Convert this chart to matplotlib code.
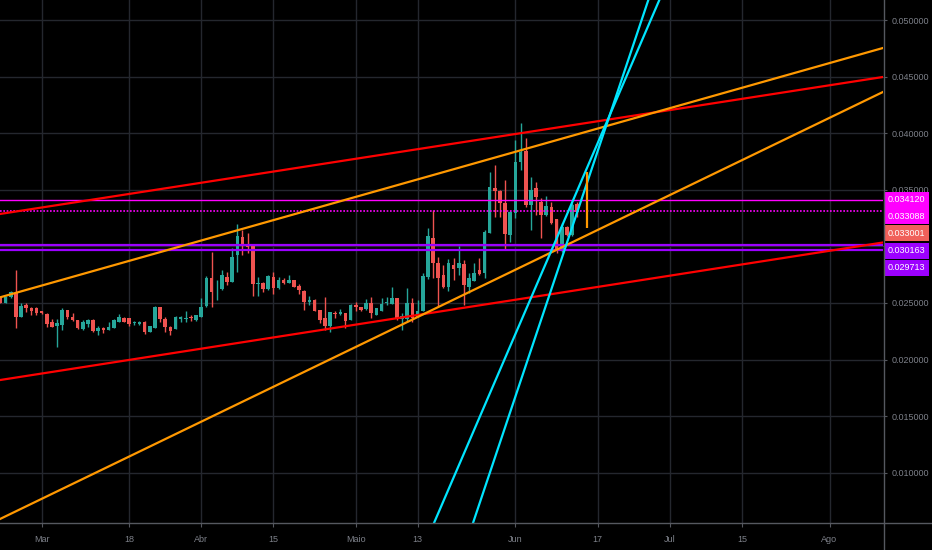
import numpy as np
import pandas as pd
import matplotlib
matplotlib.use("Agg")
import matplotlib.pyplot as plt
import matplotlib.dates as mdates
from matplotlib.lines import Line2D

# daily candles, 2019-02-21 .. 2019-06-13
opens = [0.02541, 0.02503, 0.02550, 0.02591, 0.02379, 0.02479, 0.02459, 0.02459,
         0.02429, 0.02403, 0.02332, 0.02297, 0.02309, 0.02438, 0.02379, 0.02347,
         0.02267, 0.02314, 0.02350, 0.02252, 0.02279, 0.02261, 0.02282, 0.02332,
         0.02367, 0.02364, 0.02320, 0.02314, 0.02335, 0.02247, 0.02282, 0.02462,
         0.02356, 0.02291, 0.02270, 0.02356, 0.02356, 0.02379, 0.02347, 0.02379,
         0.02473, 0.02718, 0.02603, 0.02621, 0.02733, 0.02688, 0.02921, 0.03080,
         0.03012, 0.03012, 0.02668, 0.02679, 0.02624, 0.02727, 0.02629, 0.02703,
         0.02680, 0.02703, 0.02653, 0.02609, 0.02512, 0.02526, 0.02438, 0.02364,
         0.02297, 0.02414, 0.02400, 0.02409, 0.02350, 0.02482, 0.02462, 0.02444,
         0.02497, 0.02394, 0.02432, 0.02497, 0.02491, 0.02541, 0.02356, 0.02356,
         0.02497, 0.02379, 0.02432, 0.02733, 0.03071, 0.02850, 0.02747, 0.02638,
         0.02836, 0.02807, 0.02844, 0.02644, 0.02697, 0.02791, 0.02768, 0.03115,
         0.03513, 0.03489, 0.03380, 0.03101, 0.03298, 0.03748, 0.03846, 0.03366,
         0.03513, 0.03395, 0.03277, 0.03345, 0.03239, 0.02962, 0.03168, 0.03101,
         0.03372]
highs = [0.02550, 0.02562, 0.02610, 0.02791, 0.02503, 0.02497, 0.02468, 0.02468,
         0.02432, 0.02409, 0.02356, 0.02356, 0.02453, 0.02441, 0.02409, 0.02350,
         0.02350, 0.02361, 0.02356, 0.02297, 0.02291, 0.02335, 0.02356, 0.02403,
         0.02373, 0.02370, 0.02341, 0.02341, 0.02338, 0.02300, 0.02473, 0.02468,
         0.02373, 0.02297, 0.02385, 0.02382, 0.02432, 0.02397, 0.02397, 0.02544,
         0.02741, 0.02951, 0.02703, 0.02791, 0.02777, 0.02983, 0.03198, 0.03145,
         0.03121, 0.03015, 0.02733, 0.02683, 0.02744, 0.02777, 0.02733, 0.02718,
         0.02747, 0.02706, 0.02668, 0.02612, 0.02561, 0.02535, 0.02441, 0.02556,
         0.02423, 0.02432, 0.02447, 0.02414, 0.02488, 0.02512, 0.02468, 0.02535,
         0.02556, 0.02459, 0.02541, 0.02556, 0.02644, 0.02544, 0.02409, 0.02629,
         0.02541, 0.02526, 0.02762, 0.03160, 0.03322, 0.02909, 0.02836, 0.02886,
         0.02895, 0.03007, 0.02880, 0.02768, 0.02851, 0.02895, 0.03145, 0.03660,
         0.03719, 0.03495, 0.03587, 0.03320, 0.03940, 0.04087, 0.03955, 0.03616,
         0.03572, 0.03425, 0.03445, 0.03395, 0.03245, 0.03204, 0.03180, 0.03380,
         0.03395]
lows = [0.02497, 0.02497, 0.02544, 0.02282, 0.02376, 0.02423, 0.02394, 0.02397,
        0.02403, 0.02285, 0.02285, 0.02114, 0.02261, 0.02356, 0.02341, 0.02270,
        0.02261, 0.02291, 0.02247, 0.02217, 0.02238, 0.02258, 0.02279, 0.02329,
        0.02329, 0.02297, 0.02303, 0.02309, 0.02223, 0.02244, 0.02279, 0.02332,
        0.02247, 0.02217, 0.02267, 0.02335, 0.02335, 0.02341, 0.02344, 0.02376,
        0.02468, 0.02468, 0.02526, 0.02615, 0.02659, 0.02685, 0.02777, 0.02924,
        0.02945, 0.02561, 0.02561, 0.02600, 0.02618, 0.02579, 0.02621, 0.02668,
        0.02677, 0.02638, 0.02579, 0.02438, 0.02482, 0.02426, 0.02320, 0.02261,
        0.02247, 0.02370, 0.02397, 0.02276, 0.02347, 0.02432, 0.02432, 0.02441,
        0.02364, 0.02391, 0.02429, 0.02482, 0.02488, 0.02353, 0.02261, 0.02335,
        0.02335, 0.02376, 0.02429, 0.02709, 0.02718, 0.02467, 0.02630, 0.02606,
        0.02703, 0.02747, 0.02482, 0.02585, 0.02690, 0.02745, 0.02718, 0.03115,
        0.03263, 0.03263, 0.02974, 0.03042, 0.03248, 0.03675, 0.03350, 0.03145,
        0.03277, 0.03071, 0.03265, 0.03200, 0.02939, 0.02953, 0.03090, 0.03095,
        0.03263]
closes = [0.02503, 0.02556, 0.02600, 0.02379, 0.02473, 0.02459, 0.02429, 0.02414,
          0.02409, 0.02314, 0.02291, 0.02320, 0.02438, 0.02373, 0.02350, 0.02276,
          0.02332, 0.02350, 0.02252, 0.02282, 0.02261, 0.02291, 0.02350, 0.02373,
          0.02332, 0.02314, 0.02332, 0.02335, 0.02247, 0.02297, 0.02462, 0.02359,
          0.02291, 0.02255, 0.02379, 0.02376, 0.02370, 0.02364, 0.02394, 0.02462,
          0.02718, 0.02600, 0.02609, 0.02747, 0.02685, 0.02909, 0.03092, 0.03012,
          0.02998, 0.02668, 0.02679, 0.02624, 0.02738, 0.02629, 0.02703, 0.02680,
          0.02703, 0.02644, 0.02615, 0.02512, 0.02526, 0.02432, 0.02350, 0.02297,
          0.02417, 0.02400, 0.02423, 0.02344, 0.02482, 0.02462, 0.02438, 0.02497,
          0.02409, 0.02453, 0.02491, 0.02512, 0.02541, 0.02356, 0.02385, 0.02497,
          0.02370, 0.02432, 0.02738, 0.03092, 0.02850, 0.02718, 0.02641, 0.02850,
          0.02798, 0.02851, 0.02659, 0.02720, 0.02765, 0.02753, 0.03130, 0.03528,
          0.03489, 0.03380, 0.03109, 0.03307, 0.03748, 0.03837, 0.03366, 0.03498,
          0.03433, 0.03277, 0.03357, 0.03210, 0.02962, 0.03168, 0.03101, 0.03366,
          0.03300]
dates = pd.date_range("2019-02-21", periods=len(opens), freq="D")

# trend lines drawn on the chart: (date, price) pairs
red_lines = [(("2019-02-21", 0.03287), ("2019-08-11", 0.04494)),
             (("2019-02-21", 0.01820), ("2019-08-11", 0.03032))]
orange_lines = [(("2019-02-21", 0.02551), ("2019-08-11", 0.04748)),
                (("2019-02-21", 0.005936), ("2019-08-11", 0.04356))]
cyan_lines = [(("2019-05-16", 0.00536), ("2019-06-29", 0.05182)),
              (("2019-05-24", 0.005883), ("2019-06-27", 0.05202))]
orange_mark = ("2019-06-14 22:00", 0.03163, 0.03660)

# horizontal levels
magenta_solid = 0.034120
magenta_dotted = 0.033088
purple_levels = [0.030163, 0.029713]
last_price = 0.033001

tick_dates = ["2019-03-01", "2019-03-18", "2019-04-01", "2019-04-15", "2019-05-01",
              "2019-05-13", "2019-06-01", "2019-06-17", "2019-07-01", "2019-07-15",
              "2019-08-01"]
tick_labels = ["Mar", "18", "Abr", "15", "Maio", "13", "Jun", "17", "Jul", "15", "Ago"]
price_ticks = [0.010, 0.015, 0.020, 0.025, 0.030, 0.035, 0.040, 0.045, 0.050]

UP = "#26a69a"
DOWN = "#ef5350"
GRID = "#24272e"
AXIS = "#55585f"
TXT = "#7d8089"

fig = plt.figure(figsize=(9.32, 5.5), dpi=100, facecolor="black")
ax = fig.add_axes([0, 27 / 550, 883 / 932, 523 / 550])
ax.set_facecolor("black")

x = mdates.date2num(dates)
t0 = mdates.date2num(pd.Timestamp("2019-03-01"))
ax.set_xlim(t0 - 8.08, t0 + 163.38)
ax.set_ylim(0.005565, 0.051767)

# grid
for td in tick_dates:
    ax.axvline(mdates.date2num(pd.Timestamp(td)), color=GRID, lw=1, zorder=0)
for pt in price_ticks:
    ax.axhline(pt, color=GRID, lw=1, zorder=0)

# candles
o = np.array(opens); h = np.array(highs); l = np.array(lows); c = np.array(closes)
cols = np.where(c >= o, UP, DOWN)
ax.vlines(x, l, h, colors=cols, lw=1, zorder=2)
body = np.maximum(np.abs(c - o), 0.00005)
ax.bar(x, body, bottom=np.minimum(o, c), width=0.7, color=cols, zorder=3)

# horizontal levels
ax.axhline(magenta_solid, color="#ff00ff", lw=1, zorder=4)
ax.axhline(magenta_dotted, color="#ff00ff", lw=1.2, ls=(0, (1, 1)), zorder=4)
for pl in purple_levels:
    ax.axhline(pl, color="#9c00ff", lw=1.6, zorder=4)

def draw(pairs, color):
    for (d1, p1), (d2, p2) in pairs:
        ax.axline((mdates.date2num(pd.Timestamp(d1)), p1),
                  (mdates.date2num(pd.Timestamp(d2)), p2), color=color, lw=1.6, zorder=5)

draw(red_lines, "#ff0000")
draw(orange_lines, "#ff9800")
draw(cyan_lines, "#00e5ff")
ax.vlines(mdates.date2num(pd.Timestamp(orange_mark[0])), orange_mark[1], orange_mark[2],
          color="#ff9800", lw=1.6, zorder=5)

# axes styling
for s in ["top", "left", "right", "bottom"]:
    ax.spines[s].set_visible(False)
ax.yaxis.tick_right()
ax.set_yticks(price_ticks)
ax.set_yticklabels([f"{v:.6f}" for v in price_ticks])
ax.set_xticks([mdates.date2num(pd.Timestamp(td)) for td in tick_dates])
ax.set_xticklabels(tick_labels)
ax.tick_params(axis="y", colors=AXIS, labelcolor=TXT, length=3, pad=3, labelsize=6.5)
ax.tick_params(axis="x", colors=AXIS, labelcolor=TXT, length=3, pad=6, labelsize=6.5)
for lab in ax.get_xticklabels() + ax.get_yticklabels():
    lab.set_family("Liberation Sans")

fig.add_artist(Line2D([883.5 / 932, 883.5 / 932], [0, 1], color=AXIS, lw=1))
fig.add_artist(Line2D([0, 1], [27 / 550, 27 / 550], color=AXIS, lw=1))

# price labels on the axis
labels = [(magenta_solid, "#ff00ff", 0), (magenta_dotted, "#ff00ff", -4.6),
          (last_price, "#f0605a", -20.6), (purple_levels[0], "#9c00ff", -6.1),
          (purple_levels[1], "#9c00ff", -18.3)]
for val, col, off in labels:
    ax.annotate(f"{val:.6f}", xy=(1, val), xycoords=("axes fraction", "data"),
                xytext=(5, off), textcoords="offset pixels", va="center", ha="left",
                fontsize=6.5, family="Liberation Sans", color="white",
                bbox=dict(boxstyle="square,pad=0.38", fc=col, ec="none"),
                annotation_clip=False, zorder=10)

fig.savefig("out.png", dpi=100, facecolor="black")
